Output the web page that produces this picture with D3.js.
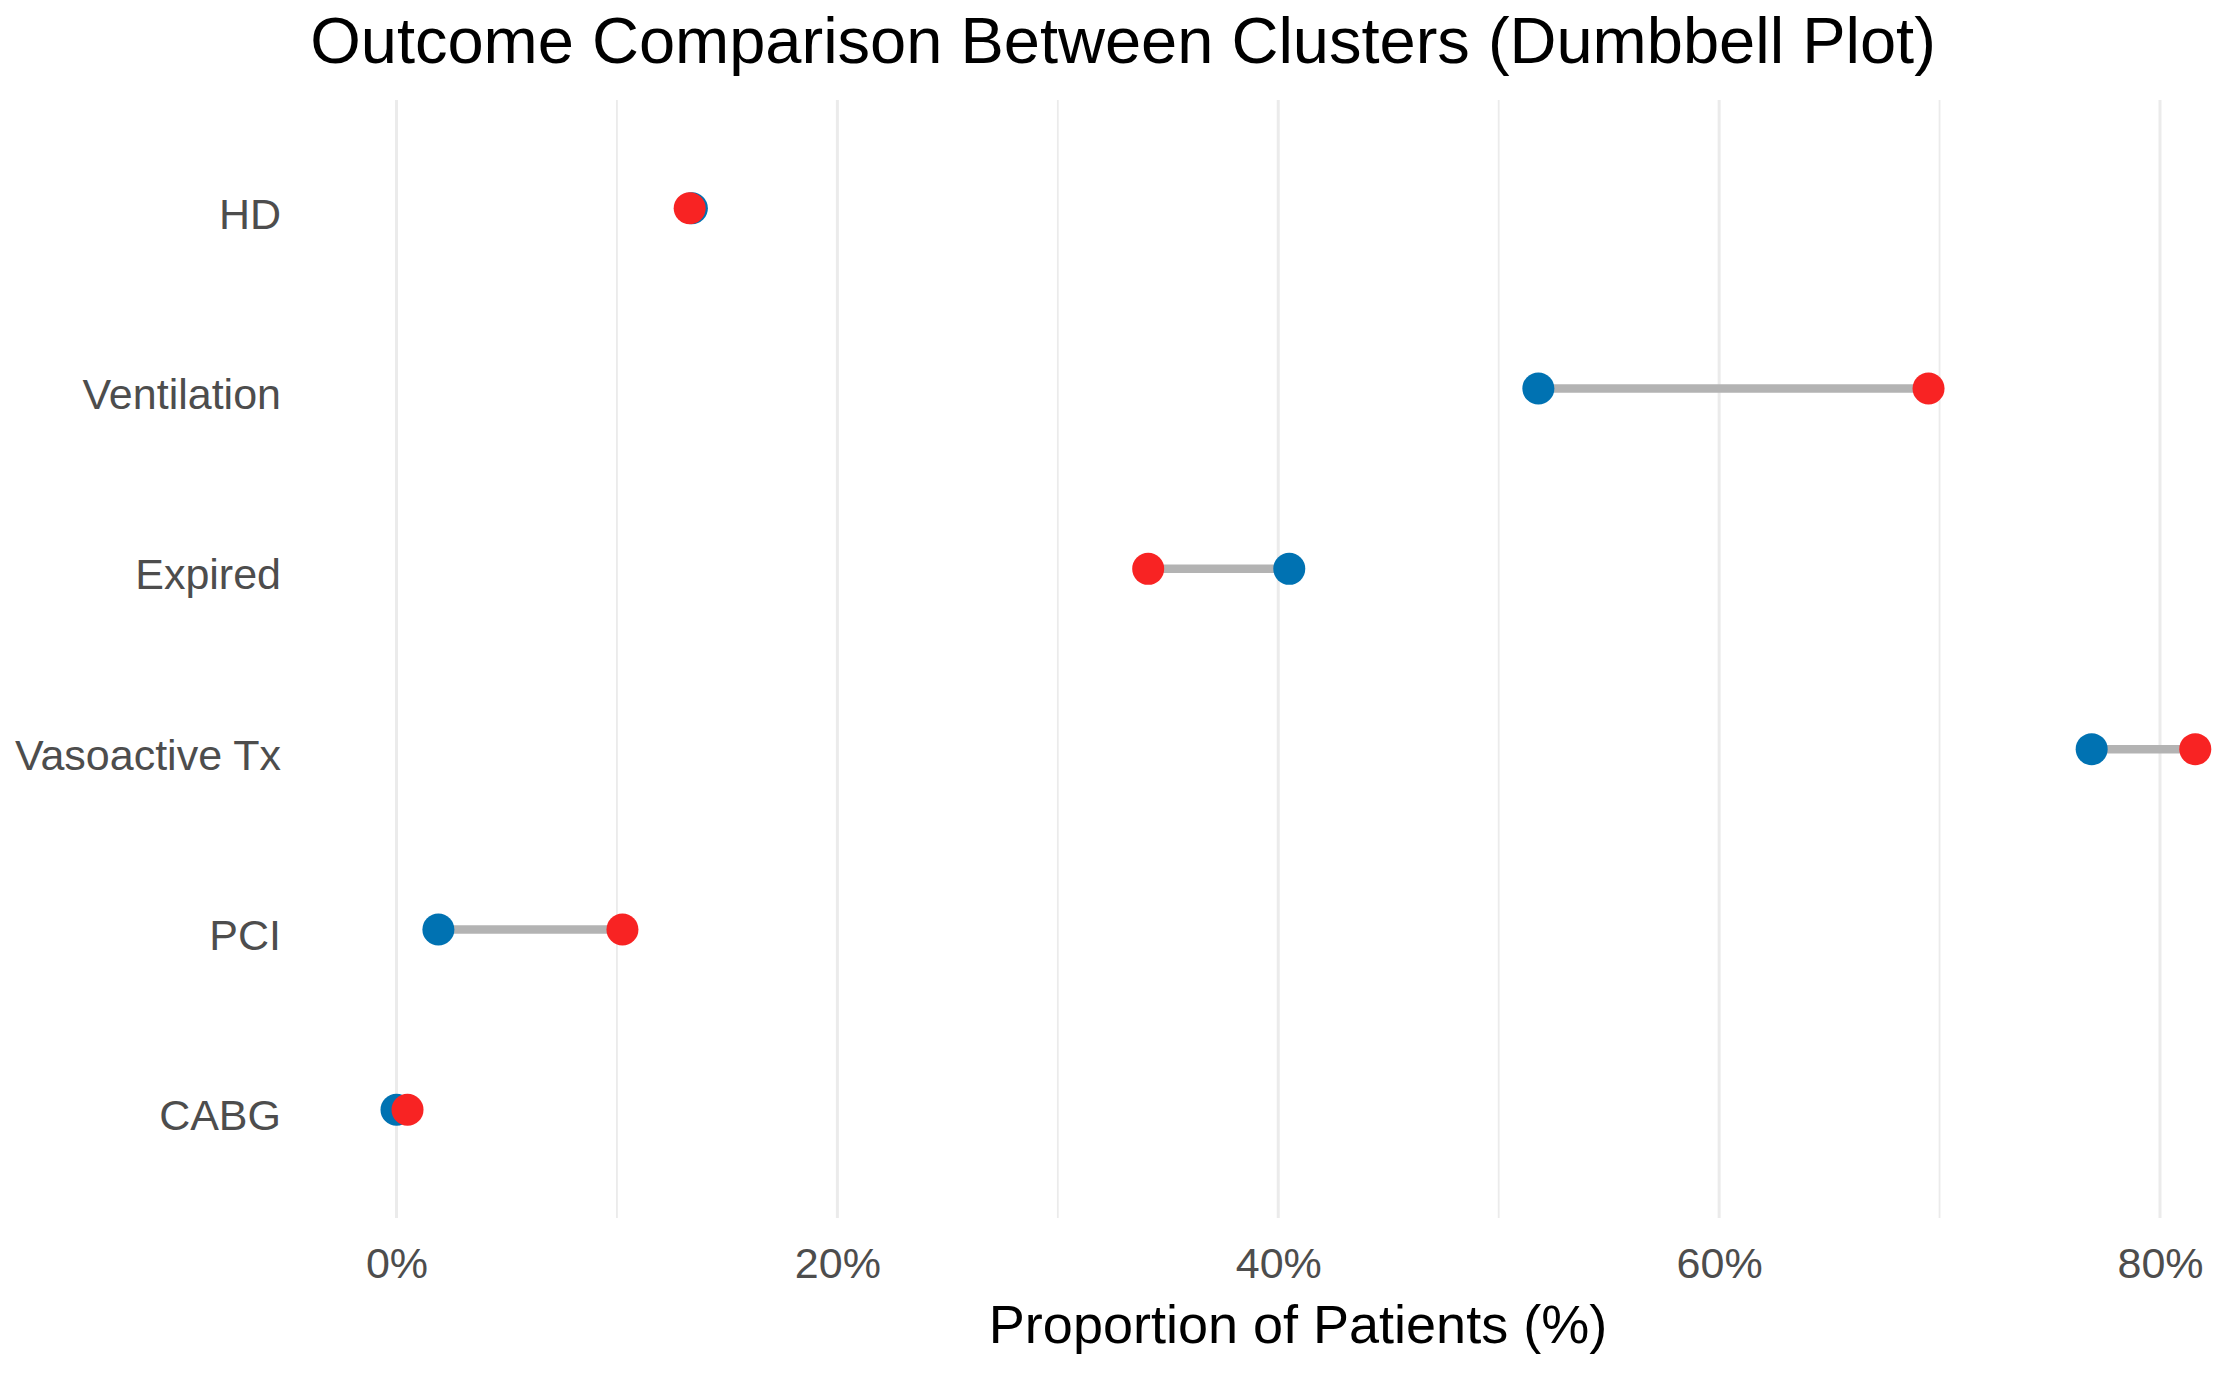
<!DOCTYPE html>
<html>
<head>
<meta charset="utf-8">
<script src="https://d3js.org/d3.v7.min.js"></script>
<style>
  body { margin: 0; background: #fff; }
  text { font-family: "Liberation Sans", Arial, sans-serif; }
</style>
</head>
<body>
<svg width="2232" height="1378"></svg>
<script>
// outcomes, top to bottom
var outcomes = ['HD', 'Ventilation', 'Expired', 'Vasoactive Tx', 'PCI', 'CABG'];
// percent of patients in each cluster
var cluster1 = [13.4, 51.8, 40.5, 76.9, 1.9, 0.0];   // blue
var cluster2 = [13.3, 69.5, 34.1, 81.6, 10.25, 0.5]; // red
var xTicks = [0, 20, 40, 60, 80];
var xGrid = [0, 10, 20, 30, 40, 50, 60, 70, 80];

var width = 2232;
var height = 1378;
var panelTop = 100, panelBottom = 1218;

var rows = outcomes.map(function(o, i){
  return {name: o, a: cluster1[i], b: cluster2[i]};
});

var svg = d3.select('svg');
svg.append('rect').attr('width', width).attr('height', height).attr('fill', '#fff');

var x = d3.scaleLinear().domain([0, 80]).range([396.5, 2160]);
var y = d3.scalePoint().domain(outcomes).range([panelTop, panelBottom]).padding(0.6);

// grid lines (minor ones thinner)
svg.append('g').selectAll('line').data(xGrid)
  .enter()
    .append('line')
    .attr('x1', function(d){ return x(d); })
    .attr('x2', function(d){ return x(d); })
    .attr('y1', panelTop)
    .attr('y2', panelBottom)
    .attr('stroke', '#ebebeb')
    .attr('stroke-width', function(d){ return d % 20 === 0 ? 3 : 1.8; });

// x axis labels
var xAxis = d3.axisBottom(x).tickValues(xTicks).tickSize(0).tickPadding(0)
  .tickFormat(function(d){ return d + '%'; });
var gx = svg.append('g').attr('transform', 'translate(0,1278)').call(xAxis);
gx.select('.domain').remove();
gx.selectAll('text')
  .attr('y', 0).attr('dy', null)
  .attr('font-size', 43)
  .attr('font-family', '"Liberation Sans", Arial, sans-serif')
  .attr('fill', '#4d4d4d');

// y axis labels
var yAxis = d3.axisLeft(y).tickSize(0).tickPadding(0);
var gy = svg.append('g').attr('transform', 'translate(281,0)').call(yAxis);
gy.select('.domain').remove();
gy.selectAll('text')
  .attr('x', 0).attr('dy', 20)
  .attr('font-size', 43)
  .attr('font-family', '"Liberation Sans", Arial, sans-serif')
  .attr('fill', '#4d4d4d');

// connecting segments
svg.append('g').selectAll('line').data(rows)
  .enter()
    .append('line')
    .attr('x1', function(d){ return x(d.a); })
    .attr('x2', function(d){ return x(d.b); })
    .attr('y1', function(d){ return y(d.name); })
    .attr('y2', function(d){ return y(d.name); })
    .attr('stroke', '#b3b3b3')
    .attr('stroke-width', 8.5);

// cluster points
svg.append('g').selectAll('circle').data(rows)
  .enter()
    .append('circle')
    .attr('cx', function(d){ return x(d.a); })
    .attr('cy', function(d){ return y(d.name); })
    .attr('r', 16)
    .attr('fill', '#0072B2');

svg.append('g').selectAll('circle').data(rows)
  .enter()
    .append('circle')
    .attr('cx', function(d){ return x(d.b); })
    .attr('cy', function(d){ return y(d.name); })
    .attr('r', 16)
    .attr('fill', '#F82323');

// titles
svg.append('text')
  .attr('x', 1298).attr('y', 1343)
  .attr('text-anchor', 'middle')
  .attr('font-size', 54)
  .attr('fill', '#000')
  .text('Proportion of Patients (%)');

svg.append('text')
  .attr('x', 1123).attr('y', 63)
  .attr('text-anchor', 'middle')
  .attr('font-size', 65)
  .attr('fill', '#000')
  .text('Outcome Comparison Between Clusters (Dumbbell Plot)');
</script>
</body>
</html>
